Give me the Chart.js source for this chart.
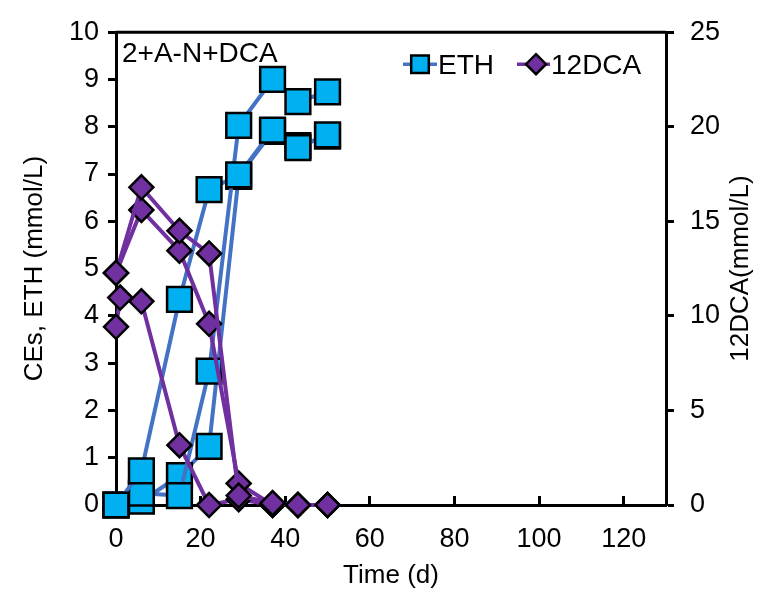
<!DOCTYPE html>
<html>
<head>
<meta charset="utf-8">
<script src="https://cdn.jsdelivr.net/npm/chart.js@4/dist/chart.umd.min.js"></script>
<style>
  html, body { margin: 0; padding: 0; background: #fff; }
</style>
</head>
<body>
<canvas id="myChart" width="759" height="589"></canvas>
<script>
// waktu sampling (hari)
const ethDays = [0, 6, 15, 22, 29, 37, 43, 50];
const ethA = [0, 0.72, 4.35, 6.67, 6.98, 7.93, 7.56, 7.83];
const ethB = [0, 0.25, 0.2, 2.83, 8.03, 9.0, 8.53, 8.74];
const ethC = [0, 0.08, 0.62, 1.24, 6.95, 7.9, 7.6, 7.8];

const dcaDays = [0, 6, 15, 22, 29, 37, 43, 50];
const dcaA = [12.27, 16.8, 14.5, 13.3, 0.5, 0.1, 0, 0];
const dcaB = [12.27, 15.6, 13.45, 9.58, 1.14, 0, 0, 0];
const dcaDaysC = [0, 1, 6, 15, 22, 29, 37, 43, 50];
const dcaC = [9.42, 10.97, 10.77, 3.16, 0, 0.3, 0, 0, 0];

const xTicks = [0, 20, 40, 60, 80, 100, 120];
const leftTicks = [0, 1, 2, 3, 4, 5, 6, 7, 8, 9, 10];
const rightTicks = [0, 5, 10, 15, 20, 25];

const FONT = '"Liberation Sans", Arial, sans-serif';

const toPoints = (days, vals) => days.map((d, i) => ({ x: d, y: vals[i] }));

const ethStyle = {
  yAxisID: 'y',
  borderColor: '#4472C4',
  borderWidth: 4,
  pointStyle: 'rect',
  pointRadius: 17.5,
  pointHoverRadius: 17.5,
  pointBackgroundColor: '#00B0F0',
  pointBorderColor: '#000',
  pointBorderWidth: 2.5,
  tension: 0,
  clip: false,
  order: 1,
};
const dcaStyle = {
  yAxisID: 'y1',
  borderColor: '#7030A0',
  borderWidth: 4,
  pointStyle: 'rectRot',
  pointRadius: 12,
  pointHoverRadius: 12,
  pointBackgroundColor: '#7030A0',
  pointBorderColor: '#000',
  pointBorderWidth: 2.5,
  tension: 0,
  clip: false,
  order: 0,
};

// garis atas + teks + legend di dalam area plot
const framePlugin = {
  id: 'frame',
  afterDraw(chart) {
    const { ctx, chartArea: ca } = chart;
    ctx.save();
    ctx.strokeStyle = '#000';
    ctx.lineWidth = 3;
    ctx.beginPath();
    ctx.moveTo(ca.left, ca.top);
    ctx.lineTo(ca.right, ca.top);
    ctx.stroke();

    ctx.fillStyle = '#000';
    ctx.font = '28px ' + FONT;
    ctx.textBaseline = 'alphabetic';
    ctx.fillText('2+A-N+DCA', ca.left + 6, ca.top + 30);

    // legend
    const ly = ca.top + 32;
    ctx.lineWidth = 3.5;
    ctx.strokeStyle = '#4472C4';
    ctx.beginPath();
    ctx.moveTo(ca.left + 287, ly);
    ctx.lineTo(ca.left + 321, ly);
    ctx.stroke();
    ctx.fillStyle = '#00B0F0';
    ctx.strokeStyle = '#000';
    ctx.lineWidth = 2.5;
    ctx.beginPath();
    ctx.rect(ca.left + 304 - 8.8, ly - 8.8, 17.6, 17.6);
    ctx.fill();
    ctx.stroke();

    ctx.lineWidth = 3.5;
    ctx.strokeStyle = '#7030A0';
    ctx.beginPath();
    ctx.moveTo(ca.left + 401, ly);
    ctx.lineTo(ca.left + 434, ly);
    ctx.stroke();
    const dx = ca.left + 420, r = 10;
    ctx.fillStyle = '#7030A0';
    ctx.strokeStyle = '#000';
    ctx.lineWidth = 2.5;
    ctx.beginPath();
    ctx.moveTo(dx, ly - r);
    ctx.lineTo(dx + r, ly);
    ctx.lineTo(dx, ly + r);
    ctx.lineTo(dx - r, ly);
    ctx.closePath();
    ctx.fill();
    ctx.stroke();

    ctx.fillStyle = '#000';
    ctx.font = '28px ' + FONT;
    ctx.fillText('ETH', ca.left + 322, ly + 10);
    ctx.fillText('12DCA', ca.left + 435, ly + 10);

    // judul sumbu kanan, dibaca dari bawah ke atas
    ctx.translate(741, (ca.top + ca.bottom) / 2);
    ctx.rotate(-Math.PI / 2);
    ctx.font = '26px ' + FONT;
    ctx.textAlign = 'center';
    ctx.textBaseline = 'middle';
    ctx.fillText('12DCA(mmol/L)', 0, 0);
    ctx.restore();
  }
};

const tickFont = { size: 27, family: FONT };
const titleFont = { size: 26, family: FONT, lineHeight: 1 };

new Chart(document.getElementById('myChart').getContext('2d'), {
  type: 'line',
  data: {
    datasets: [
      { label: 'ETH', data: toPoints(ethDays, ethA), ...ethStyle },
      { label: 'ETH b', data: toPoints(ethDays, ethB), ...ethStyle },
      { label: 'ETH c', data: toPoints(ethDays, ethC), ...ethStyle },
      { label: '12DCA', data: toPoints(dcaDays, dcaA), ...dcaStyle },
      { label: '12DCA b', data: toPoints(dcaDays, dcaB), ...dcaStyle },
      { label: '12DCA c', data: toPoints(dcaDaysC, dcaC), ...dcaStyle },
    ],
  },
  options: {
    responsive: false,
    animation: false,
    layout: { padding: { top: 22, left: 14, right: 0, bottom: 0 } },
    plugins: {
      legend: { display: false },
      tooltip: { enabled: false },
    },
    scales: {
      x: {
        type: 'linear',
        min: 0,
        max: 130,
        afterBuildTicks: (s) => { s.ticks = xTicks.map(v => ({ value: v })); },
        ticks: { color: '#000', font: tickFont, padding: 27, maxRotation: 0 },
        grid: { drawOnChartArea: false, drawTicks: true, tickLength: -9, tickWidth: 3, tickColor: '#000' },
        border: { display: true, color: '#000', width: 3 },
        title: { display: true, text: 'Time (d)', color: '#000', font: titleFont, padding: 0 },
        afterFit: (s) => { s.height = 84; },
      },
      y: {
        position: 'left',
        min: 0,
        max: 10,
        afterBuildTicks: (s) => { s.ticks = leftTicks.map(v => ({ value: v })); },
        ticks: { color: '#000', font: tickFont, padding: 9 },
        grid: { drawOnChartArea: false, drawTicks: true, tickLength: 8, tickWidth: 3, tickColor: '#000' },
        border: { display: true, color: '#000', width: 3 },
        title: { display: true, text: 'CEs, ETH (mmol/L)', color: '#000', font: titleFont, padding: { top: 8, bottom: 0 } },
        afterFit: (s) => { s.width = 116 - 14; },
      },
      y1: {
        position: 'right',
        min: 0,
        max: 25,
        afterBuildTicks: (s) => { s.ticks = rightTicks.map(v => ({ value: v })); },
        ticks: { color: '#000', font: tickFont, padding: 16 },
        grid: { drawOnChartArea: false, drawTicks: true, tickLength: 8, tickWidth: 3, tickColor: '#000' },
        border: { display: true, color: '#000', width: 3 },
        title: { display: false },
        afterFit: (s) => { s.width = 759 - 666; },
      },
    },
  },
  plugins: [framePlugin],
});
</script>
</body>
</html>
